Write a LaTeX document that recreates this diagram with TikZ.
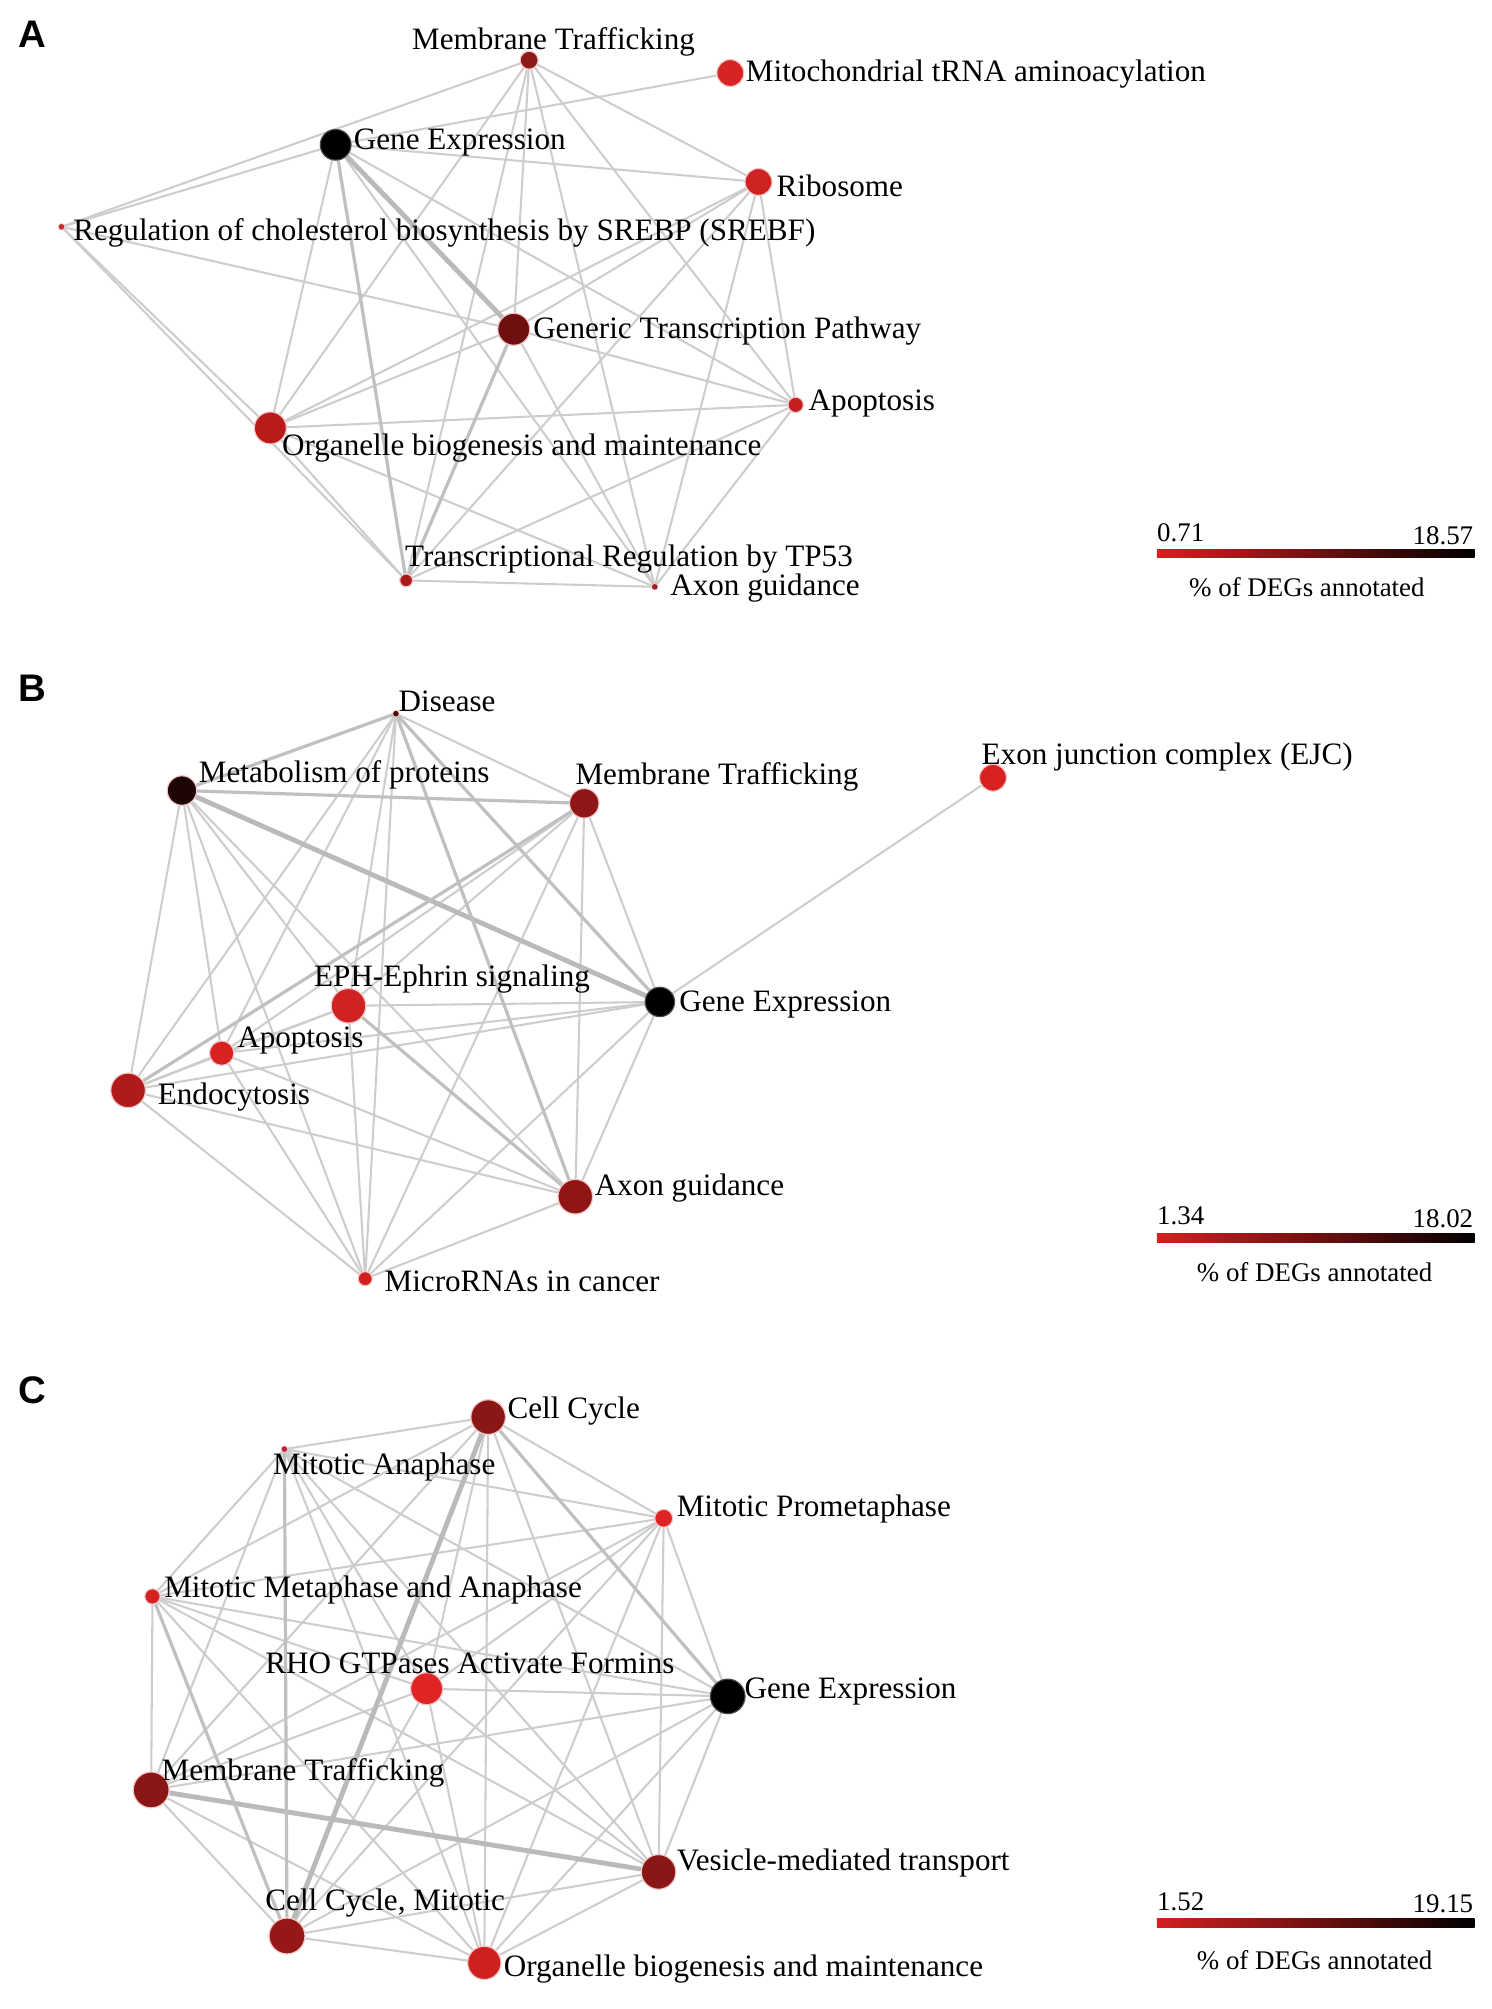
\documentclass[tikz,border=0pt]{standalone}
\usepackage{fontspec}
\setmainfont{Liberation Serif}
\newfontfamily\panelfont{Liberation Sans}
\usetikzlibrary{backgrounds}
\definecolor{edgec}{HTML}{CDCDCD}
\definecolor{edgem}{HTML}{C0C0C0}
\definecolor{edget}{HTML}{BABABA}
\definecolor{halo}{HTML}{F4C4C4}
\definecolor{cbL}{HTML}{D42020}
\definecolor{cbM}{HTML}{701010}
\begin{document}
\begin{tikzpicture}[x=1pt,y=-1pt,
  pnode/.style={circle, inner sep=0pt, minimum size=#1, draw=halo, line width=0.9pt},
  lab/.style={anchor=west, inner sep=0pt, yshift=-2pt, font=\fontsize{24.3}{27}\selectfont},
  cblab/.style={inner sep=0pt, font=\fontsize{21}{24}\selectfont},
  plet/.style={inner sep=0pt, font=\panelfont\bfseries\fontsize{30}{32}\selectfont},
  ed/.style={draw=edgec, line width=1.6pt},
  edm/.style={draw=edgem, line width=2.5pt},
  edt/.style={draw=edget, line width=3.8pt}]
\useasboundingbox (0,0) rectangle (1164,1568);

% ================= Panel A =================
\node[plet] (letA) at (25,27) {A};
\node[pnode=14pt, fill={rgb,255:red,142;green,26;blue,26}] (a-mt) at (413,47) {};
\node[pnode=21pt, fill={rgb,255:red,214;green,36;blue,36}] (a-mito) at (570,57) {};
\node[pnode=24pt, fill=black, draw=black!70] (a-ge) at (262,113) {};
\node[pnode=21pt, fill={rgb,255:red,207;green,34;blue,34}] (a-ribo) at (592,142) {};
\node[pnode=5pt, fill={rgb,255:red,192;green,48;blue,48}, line width=0.4pt] (a-srebp) at (48,177) {};
\node[pnode=25pt, fill={rgb,255:red,110;green,16;blue,16}] (a-gtp) at (401,257) {};
\node[pnode=12pt, fill={rgb,255:red,196;green,32;blue,32}] (a-apop) at (621,316) {};
\node[pnode=25pt, fill={rgb,255:red,185;green,27;blue,27}] (a-org) at (211,334) {};
\node[pnode=10pt, fill={rgb,255:red,168;green,26;blue,26}] (a-tp53) at (317,453) {};
\node[pnode=5pt, fill={rgb,255:red,160;green,32;blue,32}, line width=0.4pt] (a-axon) at (511,458) {};

\node[lab, anchor=center] (la-mt) at (432,31) {Membrane Trafficking};
\node[lab] (la-mito) at (582,56) {Mitochondrial tRNA aminoacylation};
\node[lab] (la-ge) at (276,109) {Gene Expression};
\node[lab] (la-ribo) at (606,143) {Ribosome};
\node[lab] (la-srebp) at (57,180) {Regulation of cholesterol biosynthesis by SREBP (SREBF)};
\node[lab] (la-gtp) at (416,256) {Generic Transcription Pathway};
\node[lab] (la-apop) at (631,313) {Apoptosis};
\node[lab] (la-org) at (220,348) {Organelle biogenesis and maintenance};
\node[lab] (la-tp53) at (316,434) {Transcriptional Regulation by TP53};
\node[lab] (la-axon) at (523,457) {Axon guidance};

\node[cblab, anchor=west] (cba-lo) at (903,416) {0.71};
\node[cblab, anchor=east] (cba-hi) at (1150,418) {18.57};
\node[cblab] (cba-t) at (1020,458) {\% of DEGs annotated};

% ================= Panel B =================
\node[plet] (letB) at (25,537) {B};
\node[pnode=5pt, fill={rgb,255:red,74;green,12;blue,12}, line width=0.4pt] (b-dis) at (309,557) {};
\node[pnode=23pt, fill={rgb,255:red,30;green,6;blue,6}] (b-metp) at (142,617) {};
\node[pnode=23pt, fill={rgb,255:red,142;green,22;blue,22}] (b-mt) at (456,627) {};
\node[pnode=21pt, fill={rgb,255:red,216;green,34;blue,34}] (b-ejc) at (775,607) {};
\node[pnode=27pt, fill={rgb,255:red,208;green,34;blue,34}] (b-eph) at (272,785) {};
\node[pnode=23pt, fill=black, draw=black!70] (b-ge) at (515,782) {};
\node[pnode=19pt, fill={rgb,255:red,216;green,34;blue,34}] (b-apop) at (173,822) {};
\node[pnode=27pt, fill={rgb,255:red,176;green,26;blue,26}] (b-endo) at (100,851) {};
\node[pnode=27pt, fill={rgb,255:red,144;green,22;blue,22}] (b-axon) at (449,934) {};
\node[pnode=11pt, fill={rgb,255:red,208;green,32;blue,32}] (b-mir) at (285,998) {};

\node[lab] (lb-dis) at (311,545) {Disease};
\node[lab] (lb-metp) at (155,603) {Metabolism of proteins};
\node[lab] (lb-mt) at (449,604) {Membrane Trafficking};
\node[lab] (lb-ejc) at (766,589) {Exon junction complex (EJC)};
\node[lab] (lb-eph) at (245,762) {EPH-Ephrin signaling};
\node[lab] (lb-ge) at (530,782) {Gene Expression};
\node[lab] (lb-apop) at (185,810) {Apoptosis};
\node[lab] (lb-endo) at (123,854) {Endocytosis};
\node[lab] (lb-axon) at (464,925) {Axon guidance};
\node[lab] (lb-mir) at (300,998) {MicroRNAs in cancer};

\node[cblab, anchor=west] (cbb-lo) at (903,949) {1.34};
\node[cblab, anchor=east] (cbb-hi) at (1150,951) {18.02};
\node[cblab] (cbb-t) at (1026,993) {\% of DEGs annotated};

% ================= Panel C =================
\node[plet] (letC) at (25,1085) {C};
\node[pnode=27pt, fill={rgb,255:red,138;green,22;blue,22}] (c-cc) at (381,1106) {};
\node[pnode=5pt, fill={rgb,255:red,192;green,32;blue,64}, line width=0.4pt] (c-ma) at (222,1131) {};
\node[pnode=14pt, fill={rgb,255:red,220;green,36;blue,36}] (c-mp) at (518,1185) {};
\node[pnode=12pt, fill={rgb,255:red,212;green,34;blue,34}] (c-mma) at (119,1246) {};
\node[pnode=25pt, fill={rgb,255:red,224;green,36;blue,36}] (c-rho) at (333,1318) {};
\node[pnode=27pt, fill=black, draw=black!70] (c-ge) at (568,1324) {};
\node[pnode=28pt, fill={rgb,255:red,138;green,22;blue,22}] (c-mt) at (118,1397) {};
\node[pnode=27pt, fill={rgb,255:red,138;green,22;blue,22}] (c-vmt) at (514,1461) {};
\node[pnode=28pt, fill={rgb,255:red,149;green,23;blue,23}] (c-ccm) at (224,1511) {};
\node[pnode=26pt, fill={rgb,255:red,207;green,32;blue,32}] (c-obm) at (378,1532) {};

\node[lab] (lc-cc) at (396,1099) {Cell Cycle};
\node[lab] (lc-ma) at (213,1143) {Mitotic Anaphase};
\node[lab] (lc-mp) at (528,1176) {Mitotic Prometaphase};
\node[lab] (lc-mma) at (128,1239) {Mitotic Metaphase and Anaphase};
\node[lab] (lc-rho) at (207,1296) {RHO GTPases Activate Formins};
\node[lab] (lc-ge) at (581,1318) {Gene Expression};
\node[lab] (lc-mt) at (126,1382) {Membrane Trafficking};
\node[lab] (lc-vmt) at (528,1452) {Vesicle-mediated transport};
\node[lab] (lc-ccm) at (207,1483) {Cell Cycle, Mitotic};
\node[lab] (lc-obm) at (393,1535) {Organelle biogenesis and maintenance};

\node[cblab, anchor=west] (cbc-lo) at (903,1484) {1.52};
\node[cblab, anchor=east] (cbc-hi) at (1150,1486) {19.15};
\node[cblab] (cbc-t) at (1026,1530) {\% of DEGs annotated};

% ================= Background: edges, colour bars =================
\begin{scope}[on background layer]
\fill[white] (0,0) rectangle (1164,1568);
% colour bars
\shade[left color=cbL, right color=black, middle color=cbM] (903,428.5) rectangle (1151,435.5);
\shade[left color=cbL, right color=black, middle color=cbM] (903,962.5) rectangle (1151,969.5);
\shade[left color=cbL, right color=black, middle color=cbM] (903,1497.5) rectangle (1151,1504.5);

% Panel A edges
\foreach \u/\w in {srebp/mt, srebp/ge, srebp/org, srebp/tp53, srebp/gtp,
  ge/mito, ge/ribo, ge/org, ge/apop, ge/axon,
  mt/ribo, mt/apop, mt/axon, mt/gtp, mt/tp53, mt/org,
  org/gtp, org/ribo, org/apop, org/tp53, org/axon,
  tp53/ribo, tp53/axon, tp53/apop,
  gtp/apop, gtp/axon, gtp/ribo,
  ribo/apop, ribo/axon, apop/axon}
  \draw[ed] (a-\u) -- (a-\w);
\draw[edt] (a-ge) -- (a-gtp);
\draw[edm] (a-ge) -- (a-tp53);
\draw[edm] (a-tp53) -- (a-gtp);

% Panel B edges
\draw[ed] (b-ge) -- (b-ejc);
\foreach \u/\w in {dis/mt, dis/endo, dis/apop, dis/eph, dis/mir,
  metp/endo, metp/apop, metp/eph, metp/axon, metp/mir,
  mt/ge, mt/axon, mt/apop, mt/eph, mt/mir,
  ge/eph, ge/apop, ge/endo, ge/axon, ge/mir,
  eph/mir, eph/endo, eph/apop,
  apop/axon, apop/mir, apop/endo,
  endo/axon, endo/mir, axon/mir}
  \draw[ed] (b-\u) -- (b-\w);
\draw[edt] (b-metp) -- (b-ge);
\draw[edm] (b-metp) -- (b-mt);
\draw[edm] (b-dis) -- (b-ge);
\draw[edm] (b-dis) -- (b-metp);
\draw[edm] (b-dis) -- (b-axon);
\draw[edm] (b-mt) -- (b-endo);
\draw[edm] (b-eph) -- (b-axon);

% Panel C edges (nearly complete graph)
\foreach \u/\w in {cc/ma, cc/mp, cc/mma, cc/rho, cc/mt, cc/vmt, cc/obm,
  ma/mp, ma/mma, ma/rho, ma/ge, ma/mt, ma/vmt, ma/obm,
  mp/mma, mp/rho, mp/ge, mp/mt, mp/vmt, mp/ccm, mp/obm,
  mma/rho, mma/ge, mma/mt, mma/vmt, mma/obm,
  rho/ge, rho/mt, rho/vmt, rho/ccm, rho/obm,
  ge/mt, ge/vmt, ge/ccm, ge/obm,
  mt/ccm, mt/obm, vmt/ccm, vmt/obm, ccm/obm}
  \draw[ed] (c-\u) -- (c-\w);
\draw[edt] (c-cc) -- (c-ccm);
\draw[edt] (c-mt) -- (c-vmt);
\draw[edm] (c-cc) -- (c-ge);
\draw[edm] (c-ma) -- (c-ccm);
\draw[edm] (c-mma) -- (c-ccm);
\end{scope}
\end{tikzpicture}
\end{document}
